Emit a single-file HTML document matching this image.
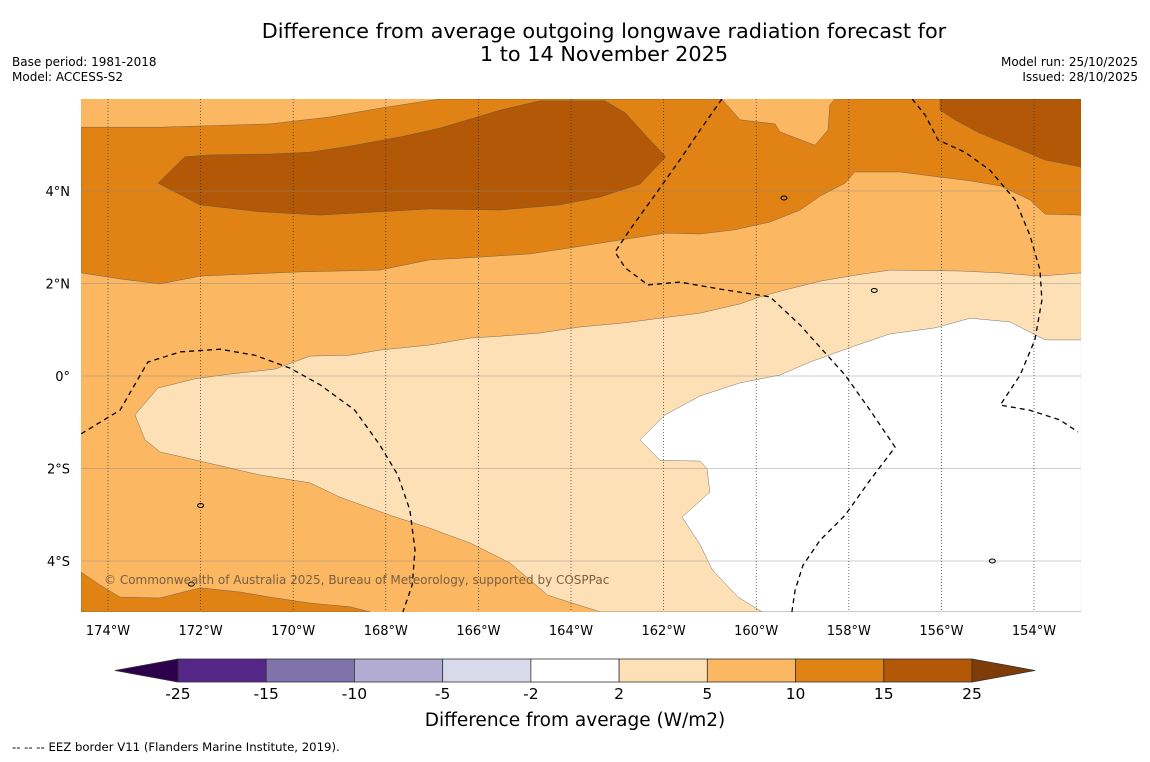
<!DOCTYPE html>
<html><head><meta charset="utf-8">
<style>
body{margin:0;background:#fff;width:1150px;height:758px;overflow:hidden;font-family:"DejaVu Sans","Liberation Sans",sans-serif;}
svg text{font-family:"DejaVu Sans","Liberation Sans",sans-serif;}
</style></head>
<body>
<svg id="chart" width="1150" height="758" viewBox="0 0 1150 758">
<text x="604" y="38" font-size="20.8" text-anchor="middle">Difference from average outgoing longwave radiation forecast for</text>
<text x="604" y="61" font-size="20.8" text-anchor="middle">1 to 14 November 2025</text>
<text x="12" y="66" font-size="12">Base period: 1981-2018</text>
<text x="12" y="81" font-size="12">Model: ACCESS-S2</text>
<text x="1138" y="66" font-size="12" text-anchor="end">Model run: 25/10/2025</text>
<text x="1138" y="81" font-size="12" text-anchor="end">Issued: 28/10/2025</text>
<g id="map"></g>
<g id="cbar"></g>
<text x="575" y="726" font-size="18.5" text-anchor="middle">Difference from average (W/m2)</text>
<text x="12" y="751" font-size="11.7">--  --  -- EEZ border V11 (Flanders Marine Institute, 2019).</text>
</svg>
<script>
const lonTicks=[-174,-172,-170,-168,-166,-164,-162,-160,-158,-156,-154];
const latTicks=[4,2,0,-2,-4];
const cbLevels=[-25,-15,-10,-5,-2,2,5,10,15,25];
const cbColors=["#542788","#8073ac","#b2abd2","#d8daeb","#ffffff","#fde0b6","#fbb762","#e08214","#b35806"];
const band10to15Upper=[[-174.58,5.38],[-172.88,5.38],[-170.5,5.45],[-169.21,5.6],[-168.13,5.79],[-166.83,5.99],[-160.74,5.99],[-160.35,5.54],[-159.59,5.45],[-159.49,5.28],[-158.73,4.99],[-158.45,5.32],[-158.41,5.86],[-158.3,5.99],[-152.98,5.99],[-152.98,3.48],[-153.76,3.5],[-154.09,3.81],[-154.73,4.11],[-155.38,4.22],[-156.03,4.3],[-156.89,4.41],[-157.87,4.41],[-158.08,4.17],[-158.62,3.89],[-159.05,3.59],[-159.7,3.33],[-160.46,3.16],[-161.21,3.07],[-161.97,3.09],[-162.94,2.94],[-164.02,2.77],[-164.89,2.64],[-165.97,2.57],[-167.05,2.51],[-167.8,2.36],[-168.13,2.29],[-169.85,2.25],[-172.01,2.16],[-172.88,1.99],[-173.74,2.1],[-174.58,2.23]];
const band15to25Blob=[[-172.92,4.17],[-172.34,4.74],[-171.8,4.78],[-170.5,4.8],[-169.64,4.84],[-168.77,4.97],[-167.69,5.17],[-166.83,5.36],[-165.53,5.75],[-164.67,5.95],[-163.27,5.95],[-162.83,5.69],[-162.34,5.15],[-161.95,4.74],[-162.51,4.15],[-163.37,3.87],[-164.24,3.7],[-165.53,3.59],[-167.05,3.61],[-168.13,3.55],[-169.42,3.48],[-170.72,3.55],[-172.01,3.7]];
const band15to25NE=[[-156.03,5.99],[-152.98,5.99],[-152.98,4.52],[-153.76,4.67],[-154.52,4.99],[-155.17,5.25],[-155.71,5.54],[-156.03,5.75]];
const band2to5=[[-152.98,2.23],[-153.87,2.16],[-154.73,2.23],[-155.6,2.27],[-157.11,2.29],[-157.87,2.18],[-158.62,2.05],[-159.38,1.86],[-159.92,1.71],[-160.35,1.56],[-161.21,1.36],[-162.08,1.25],[-162.83,1.15],[-163.81,1.06],[-164.67,0.93],[-165.53,0.86],[-166.18,0.82],[-167.05,0.67],[-168.13,0.56],[-168.77,0.45],[-169.64,0.43],[-170.39,0.15],[-171.37,0.04],[-172.12,-0.06],[-172.92,-0.26],[-173.42,-0.84],[-173.2,-1.38],[-172.88,-1.64],[-172.01,-1.84],[-170.72,-2.14],[-169.64,-2.31],[-168.99,-2.62],[-167.91,-3.01],[-167.05,-3.29],[-166.18,-3.61],[-165.32,-4.04],[-164.5,-4.74],[-163.37,-5.1],[-152.98,-5.1]];
const band10to15SW=[[-174.58,-4.24],[-174.17,-4.52],[-173.74,-4.78],[-172.88,-4.8],[-172.01,-4.58],[-171.15,-4.67],[-170.5,-4.78],[-169.64,-4.91],[-168.77,-4.99],[-168.34,-5.1],[-174.58,-5.1]];
const bandNeutral=[[-152.98,0.78],[-153.76,0.78],[-154.52,1.17],[-155.38,1.25],[-156.14,1.04],[-157.11,0.91],[-157.87,0.65],[-158.84,0.3],[-159.49,0.02],[-160.35,-0.15],[-161.21,-0.43],[-161.97,-0.84],[-162.51,-1.38],[-162.08,-1.82],[-161.21,-1.84],[-161.06,-2.01],[-161.0,-2.51],[-161.6,-3.05],[-161.21,-3.65],[-160.95,-4.19],[-160.39,-4.78],[-159.87,-5.1],[-152.98,-5.1]];
const eezWest=[[-174.58,-1.25],[-173.74,-0.74],[-173.14,0.3],[-172.44,0.52],[-171.58,0.58],[-170.83,0.45],[-170.07,0.17],[-169.42,-0.19],[-168.67,-0.74],[-168.13,-1.49],[-167.74,-2.14],[-167.48,-2.9],[-167.37,-3.76],[-167.43,-4.52],[-167.63,-5.1]];
const eezCentral=[[-160.74,5.99],[-161.21,5.32],[-161.65,4.67],[-162.19,3.91],[-162.73,3.16],[-163.05,2.68],[-162.83,2.34],[-162.34,1.97],[-161.65,2.03],[-160.78,1.88],[-159.7,1.71],[-159.05,1.1],[-158.08,0.02],[-157.54,-0.74],[-157.0,-1.54],[-157.54,-2.25],[-158.08,-3.01],[-158.62,-3.55],[-158.99,-4.09],[-159.16,-4.63],[-159.23,-5.1]];
const eezEast=[[-156.63,5.99],[-156.35,5.64],[-156.07,5.1],[-155.49,4.84],[-154.95,4.45],[-154.41,3.81],[-154.09,3.05],[-153.87,2.29],[-153.83,1.64],[-153.98,0.78],[-154.3,0.02],[-154.73,-0.63],[-154.09,-0.74],[-153.44,-0.95],[-153.05,-1.21]];
const islands=[[-157.45,1.85],[-159.4,3.85],[-172.0,-2.8],[-154.9,-4.0],[-172.2,-4.5]];

const NS="http://www.w3.org/2000/svg";
const X0=81,X1=1081,Y0=99,Y1=612;
const xs=lon=>108+(lon+174)*46.3;
const ys=lat=>376-lat*46.25;
const map=document.getElementById('map');
function mk(tag,attrs,parent){const e=document.createElementNS(NS,tag);for(const k in attrs)e.setAttribute(k,attrs[k]);parent.appendChild(e);return e;}
const pts=a=>a.map(p=>xs(p[0]).toFixed(1)+','+ys(p[1]).toFixed(1)).join(' ');

const cp=mk('clipPath',{id:'clip'},map);
mk('rect',{x:X0,y:Y0,width:X1-X0,height:Y1-Y0},cp);
const g=mk('g',{'clip-path':'url(#clip)'},map);
const bg=mk('rect',{x:X0,y:Y0,width:X1-X0,height:Y1-Y0,fill:cbColors[6]},g);


const layers=[[band10to15Upper,7,'band-10-to-15-north'],[band15to25Blob,8,'band-15-to-25-west'],[band15to25NE,8,'band-15-to-25-northeast'],[band2to5,5,'band-2-to-5'],[band10to15SW,7,'band-10-to-15-southwest'],[bandNeutral,4,'band-neutral']];
layers.forEach(l=>{
  const p=mk('polygon',{points:pts(l[0]),fill:cbColors[l[1]],stroke:'#555',"stroke-width":0.4},g);
  
  
});
latTicks.forEach(t=>{
  const ln=mk('line',{x1:X0,x2:X1,y1:ys(t),y2:ys(t),stroke:'#888','stroke-width':0.6,opacity:0.8},g);
  
  
  const tx=mk('text',{x:70,y:ys(t)+5,'font-size':13,'text-anchor':'end'},map);
  tx.textContent=t===0?'0°':Math.abs(t)+'°'+(t>0?'N':'S');
  
  
});
lonTicks.forEach(t=>{
  const ln=mk('line',{x1:xs(t),x2:xs(t),y1:Y0,y2:Y1,stroke:'#333','stroke-width':0.7,'stroke-dasharray':'1,2'},g);
  
  
  const tx=mk('text',{x:xs(t),y:635,'font-size':13,'text-anchor':'middle'},map);
  tx.textContent=Math.abs(t)+'°W';
  
  
});
[[eezWest,'eez-border-west'],[eezCentral,'eez-border-central'],[eezEast,'eez-border-east']].forEach(l=>{
  const p=mk('polyline',{points:pts(l[0]),fill:'none',stroke:'#000','stroke-width':1.3,'stroke-dasharray':'5,4'},g);
  
  
});
islands.forEach(d=>{
  const e=mk('ellipse',{cx:xs(d[0]),cy:ys(d[1]),rx:3,ry:2,fill:'none',stroke:'#000','stroke-width':1},g);
  
  
});
const wm=mk('text',{x:104,y:584,'font-size':12,fill:'#7a6040'},g);
wm.textContent='© Commonwealth of Australia 2025, Bureau of Meteorology, supported by COSPPac';



const cb=document.getElementById('cbar');
const CB0=178,CB1=972,CBY=659,CBH=23;
const cbPos=[];
const nb=cbLevels.length-1;
for(let i=0;i<=nb;i++)cbPos.push(CB0+(CB1-CB0)*i/nb);
for(let i=0;i<nb;i++){
  const r=mk('rect',{x:cbPos[i],y:CBY,width:cbPos[i+1]-cbPos[i],height:CBH,fill:cbColors[i],stroke:'#333','stroke-width':0.8},cb);
  
  
}
const tl=mk('polygon',{points:`${CB0},${CBY} ${115},${CBY+CBH/2} ${CB0},${CBY+CBH}`,fill:'#2d004b',stroke:'#333','stroke-width':0.8},cb);


const tr=mk('polygon',{points:`${CB1},${CBY} ${1035},${CBY+CBH/2} ${CB1},${CBY+CBH}`,fill:'#7f3b08',stroke:'#333','stroke-width':0.8},cb);


cbLevels.forEach((v,i)=>{
  const t=mk('text',{x:cbPos[i],y:699,'font-size':15.5,'text-anchor':'middle'},cb);
  t.textContent=v;
  
  
});
</script>
</body></html>
